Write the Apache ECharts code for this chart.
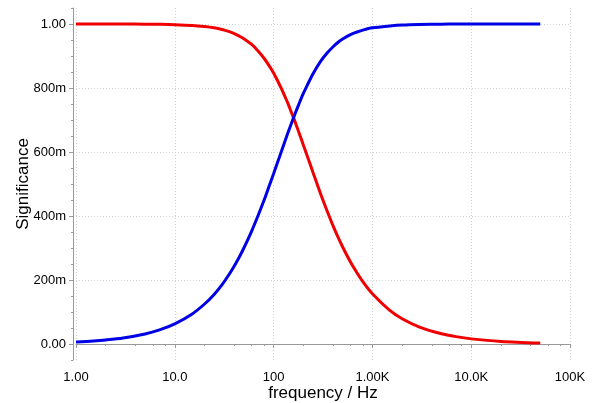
<!DOCTYPE html>
<html>
<head>
<meta charset="utf-8">
<script src="https://cdn.jsdelivr.net/npm/echarts@6/dist/echarts.min.js"></script>
<style>html,body{margin:0;padding:0;background:#fff;}#c{width:592px;height:403px;}</style>
</head>
<body>
<div id="c"></div>
<script>
const freqs    = [1, 1.5, 2, 3, 5, 7, 10, 15, 20, 25, 30, 35, 40, 45, 50, 60, 70, 80, 90, 100, 110, 120, 130, 140, 150, 160, 170, 180, 200, 220, 250, 300, 350, 400, 450, 500, 600, 700, 800, 1000, 1500, 2000, 3000, 5000, 7000, 10000, 20000, 50000];
const lowPass  = [1.000, 1.000, 1.000, 0.9998, 0.9995, 0.999, 0.998, 0.9956, 0.992, 0.988, 0.983, 0.977, 0.970, 0.962, 0.954, 0.936, 0.915, 0.893, 0.870, 0.847, 0.822, 0.798, 0.774, 0.751, 0.727, 0.705, 0.683, 0.662, 0.622, 0.586, 0.537, 0.468, 0.414, 0.369, 0.333, 0.303, 0.256, 0.222, 0.195, 0.157, 0.105, 0.079, 0.053, 0.032, 0.023, 0.016, 0.008, 0.003];
const highPass = [0.0063, 0.0094, 0.0126, 0.0189, 0.0314, 0.044, 0.063, 0.094, 0.125, 0.155, 0.185, 0.215, 0.244, 0.272, 0.300, 0.353, 0.403, 0.449, 0.493, 0.532, 0.569, 0.602, 0.633, 0.661, 0.686, 0.709, 0.730, 0.749, 0.783, 0.810, 0.844, 0.884, 0.910, 0.929, 0.943, 0.953, 0.967, 0.975, 0.981, 0.988, 0.994, 0.997, 0.9986, 0.9995, 0.9997, 0.9999, 1.000, 1.000];
const yTickValues = [0, 0.2, 0.4, 0.6, 0.8, 1.0];
const yTickLabels = ['0.00', '200m', '400m', '600m', '800m', '1.00'];
const yMinorTicks = [-0.05, 0.05, 0.1, 0.15, 0.25, 0.3, 0.35, 0.45, 0.5, 0.55, 0.65, 0.7, 0.75, 0.85, 0.9, 0.95, 1.05];
const xTickValues = [1, 10, 100, 1000, 10000, 100000];
const xTickLabels = ['1.00', '10.0', '100', '1.00K', '10.0K', '100K'];
const xMinorTicks = [2, 4, 6, 8, 20, 40, 60, 80, 200, 400, 600, 800, 2000, 4000, 6000, 8000, 20000, 40000, 60000, 80000];

const font = '"Liberation Sans", Arial, sans-serif';
const chart = echarts.init(document.getElementById('c'), null, {renderer: 'canvas'});
const axisGray = '#9a9a9a';
const gridStyle = {color: '#d4d4d4', type: [1, 2], width: 1};

chart.setOption({
  animation: false,
  backgroundColor: '#fff',
  grid: {left: 76, right: 22, top: 8, bottom: 43, containLabel: false, outerBoundsMode: 'none'},
  xAxis: [
    {
      type: 'log', logBase: 10, min: 1, max: 100000, offset: 3,
      name: 'frequency / Hz', nameLocation: 'middle', nameGap: 22, nameMoveOverlap: false,
      nameTextStyle: {fontFamily: font, fontSize: 17, color: '#000'},
      axisLine: {show: true, lineStyle: {color: axisGray}},
      axisTick: {show: true, length: 4, lineStyle: {color: axisGray}, customValues: xTickValues},
      axisLabel: {fontFamily: font, fontSize: 13, color: '#000', margin: 8, customValues: xTickValues,
        formatter: v => { const i = xTickValues.findIndex(t => Math.abs(t - v) / t < 1e-6); return i >= 0 ? xTickLabels[i] : ''; }},
      splitLine: {show: true, lineStyle: gridStyle}
    },
    {
      type: 'log', logBase: 10, min: 1, max: 100000, offset: 3, position: 'bottom',
      axisLine: {show: false},
      axisTick: {show: true, length: 2, lineStyle: {color: axisGray}, customValues: xMinorTicks},
      axisLabel: {show: false},
      splitLine: {show: false}
    }
  ],
  yAxis: [
    {
      type: 'value', min: -0.05, max: 1.05, offset: 3,
      name: 'Significance', nameLocation: 'middle', nameGap: 41, nameRotate: 90, nameMoveOverlap: false,
      nameTextStyle: {fontFamily: font, fontSize: 17, color: '#000'},
      axisLine: {show: true, lineStyle: {color: axisGray}},
      axisTick: {show: true, length: 4, lineStyle: {color: axisGray}, customValues: yTickValues},
      axisLabel: {fontFamily: font, fontSize: 13, color: '#000', margin: 7, customValues: yTickValues,
        formatter: v => { const i = yTickValues.findIndex(t => Math.abs(t - v) < 1e-6); return i >= 0 ? yTickLabels[i] : ''; }},
      splitLine: {show: true, lineStyle: gridStyle}
    },
    {
      type: 'value', min: -0.05, max: 1.05, offset: 3, position: 'left',
      axisLine: {show: false},
      axisTick: {show: true, length: 2, lineStyle: {color: axisGray}, customValues: yMinorTicks},
      axisLabel: {show: false},
      splitLine: {show: false}
    }
  ],
  series: [
    {
      type: 'line', name: 'low', xAxisIndex: 0, yAxisIndex: 0,
      data: freqs.map((f, i) => [f, lowPass[i]]),
      showSymbol: false, smooth: 0.3,
      lineStyle: {color: '#f00000', width: 3}
    },
    {
      type: 'line', name: 'high', xAxisIndex: 0, yAxisIndex: 0,
      data: freqs.map((f, i) => [f, highPass[i]]),
      showSymbol: false, smooth: 0.3,
      lineStyle: {color: '#0000e6', width: 3}
    }
  ]
});
</script>
</body>
</html>
